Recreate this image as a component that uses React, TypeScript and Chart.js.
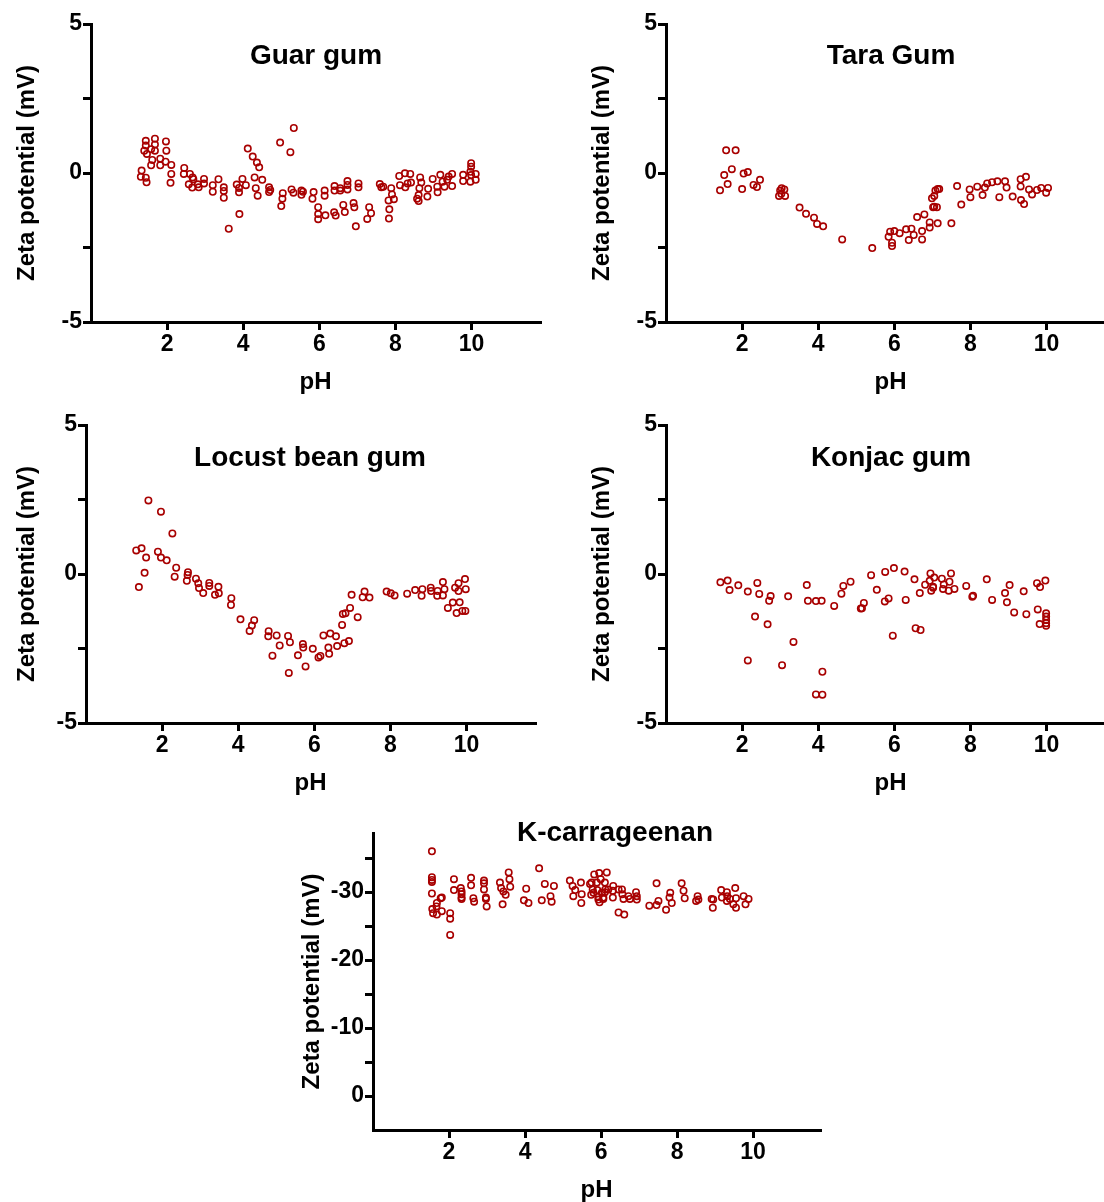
import React, { useEffect, useRef } from 'react';
import { Chart, registerables } from 'chart.js';

Chart.register(...registerables);

// ---------- DATA ----------
const xTicks = [2, 4, 6, 8, 10];
const smallYTicks = [-5, -2.5, 0, 2.5, 5];
const carrYTicks = [-35, -30, -25, -20, -15, -10, -5, 0];

const guarPH = [
  1.44, 1.44, 1.40, 1.47, 1.68, 1.68, 1.68, 1.58, 1.61, 1.58, 1.82, 1.82, 1.97, 1.98, 1.96, 2.11, 2.11, 2.09,
  1.33, 1.31, 1.44, 1.46, 2.45, 2.44, 2.60, 2.67, 2.57, 2.66, 2.69, 2.81, 2.83, 2.97, 2.97, 3.20, 3.20, 3.35,
  3.49, 3.49, 3.49, 3.62, 3.83, 3.89, 3.89, 3.90, 3.98, 4.07, 4.12, 4.25, 4.36, 4.42, 4.30, 4.33, 4.38, 4.50,
  4.68, 4.68, 4.71, 4.97, 5.04, 5.03, 5.00, 5.24, 5.33, 5.27, 5.32, 5.53, 5.53, 5.57, 5.82, 5.85, 5.97, 5.97,
  5.97, 6.14, 6.14, 6.16, 6.40, 6.40, 6.55, 6.55, 6.74, 6.74, 6.74, 6.39, 6.43, 6.63, 6.67, 6.90, 6.92, 6.96,
  7.03, 7.03, 7.31, 7.36, 7.26, 7.59, 7.63, 7.68, 7.89, 7.91, 7.96, 7.82, 7.84, 7.83, 8.10, 8.25, 8.39, 8.12,
  8.26, 8.32, 8.41, 8.65, 8.68, 8.63, 8.61, 8.57, 8.61, 8.86, 8.84, 8.98, 9.10, 9.11, 9.18, 9.24, 9.29, 9.36,
  9.40, 9.49, 9.49, 9.78, 9.78, 9.99, 9.99, 9.97, 9.99, 10.11, 10.11, 9.97,
];
const guarZeta = [
  1.08, 0.92, 0.75, 0.64, 1.15, 0.96, 0.75, 0.80, 0.44, 0.26, 0.48, 0.26, 1.06, 0.75, 0.38, 0.27, -0.03, -0.33,
  0.08, -0.13, -0.16, -0.31, 0.17, -0.03, -0.03, -0.15, -0.38, -0.49, -0.21, -0.38, -0.48, -0.20, -0.35, -0.41, -0.63, -0.21,
  -0.48, -0.60, -0.83, -1.87, -0.39, -0.50, -0.65, -1.38, -0.20, -0.41, 0.82, 0.55, 0.35, 0.19, -0.15, -0.51, -0.76, -0.23,
  -0.48, -0.64, -0.57, 1.02, -0.68, -0.86, -1.11, 0.70, 1.51, -0.55, -0.66, -0.59, -0.73, -0.63, -0.86, -0.64, -1.15, -1.38,
  -1.55, -0.59, -0.76, -1.42, -0.44, -0.59, -0.51, -0.59, -0.27, -0.40, -0.55, -1.32, -1.43, -1.07, -1.31, -1.01, -1.15, -1.79,
  -0.35, -0.48, -1.15, -1.35, -1.54, -0.37, -0.48, -0.46, -0.51, -0.72, -0.88, -0.92, -1.22, -1.53, -0.10, -0.01, -0.03, -0.41,
  -0.48, -0.35, -0.32, -0.15, -0.32, -0.51, -0.74, -0.86, -0.94, -0.53, -0.79, -0.20, -0.46, -0.65, -0.06, -0.29, -0.46, -0.23,
  -0.12, -0.03, -0.44, -0.06, -0.27, 0.33, 0.21, 0.04, -0.07, -0.03, -0.23, -0.29,
];

const taraPH = [
  1.58, 1.83, 1.73, 1.53, 1.62, 1.42, 2.04, 2.15, 2.00, 2.30, 2.39, 2.47, 3.04, 3.11, 3.00, 3.03, 2.97, 3.13,
  3.51, 3.68, 3.89, 3.97, 4.13, 4.63, 5.42, 5.89, 6.00, 6.14, 5.85, 5.94, 5.94, 6.31, 6.45, 6.51, 6.38, 6.60,
  6.79, 6.73, 6.73, 6.93, 6.93, 7.14, 7.50, 7.02, 7.12, 7.05, 6.99, 7.05, 7.08, 7.14, 7.18, 7.65, 7.76, 7.98,
  8.00, 8.18, 8.32, 8.38, 8.44, 8.57, 8.71, 8.91, 8.95, 8.76, 9.11, 9.32, 9.32, 9.46, 9.33, 9.41, 9.54, 9.62,
  9.75, 9.86, 9.99, 10.04,
];
const taraZeta = [
  0.76, 0.76, 0.13, -0.07, -0.37, -0.58, -0.02, 0.03, -0.54, -0.40, -0.47, -0.23, -0.51, -0.55, -0.59, -0.70, -0.77, -0.77,
  -1.16, -1.37, -1.50, -1.71, -1.79, -2.23, -2.52, -1.97, -1.95, -2.02, -2.14, -2.34, -2.45, -1.89, -1.87, -2.08, -2.25, -1.48,
  -1.39, -1.95, -2.23, -1.66, -1.83, -1.69, -1.69, -1.15, -1.15, -1.13, -0.85, -0.77, -0.59, -0.54, -0.54, -0.44, -1.06, -0.55,
  -0.81, -0.46, -0.74, -0.49, -0.35, -0.31, -0.28, -0.28, -0.49, -0.81, -0.79, -0.21, -0.45, -0.13, -0.91, -1.04, -0.55, -0.72,
  -0.57, -0.50, -0.66, -0.50,
];

const locustPH = [
  1.64, 1.97, 2.27, 1.32, 1.46, 1.58, 1.54, 1.39, 1.89, 1.97, 2.12, 2.37, 2.33, 2.68, 2.67, 2.65, 2.89, 2.95,
  2.97, 3.08, 3.24, 3.24, 3.48, 3.49, 3.39, 3.82, 3.81, 4.06, 4.42, 4.36, 4.30, 4.80, 4.79, 5.01, 5.09, 4.90,
  5.31, 5.36, 5.33, 5.70, 5.71, 5.57, 5.77, 5.96, 6.11, 6.16, 6.24, 6.42, 6.37, 6.39, 6.57, 6.60, 6.79, 6.91,
  6.73, 6.75, 6.82, 6.94, 7.14, 6.98, 7.32, 7.27, 7.45, 7.90, 8.01, 8.11, 8.44, 8.65, 8.84, 8.82, 9.06, 9.07,
  9.24, 9.23, 9.38, 9.42, 9.38, 9.51, 9.64, 9.82, 9.74, 9.89, 9.97, 9.70, 9.79, 9.79, 9.96, 9.98,
];
const locustZeta = [
  2.47, 2.09, 1.36, 0.79, 0.86, 0.55, 0.04, -0.44, 0.75, 0.55, 0.46, 0.21, -0.09, 0.06, -0.03, -0.23, -0.16, -0.31,
  -0.47, -0.64, -0.30, -0.40, -0.43, -0.65, -0.70, -0.81, -1.04, -1.52, -1.55, -1.73, -1.91, -1.92, -2.09, -2.06, -2.40, -2.74,
  -2.08, -2.29, -3.32, -2.35, -2.47, -2.73, -3.10, -2.51, -2.80, -2.75, -2.06, -2.00, -2.47, -2.68, -2.09, -2.42, -2.32, -2.25,
  -1.71, -1.34, -1.32, -1.14, -1.45, -0.70, -0.59, -0.78, -0.79, -0.59, -0.65, -0.72, -0.66, -0.54, -0.51, -0.73, -0.46, -0.57,
  -0.57, -0.73, -0.72, -0.51, -0.27, -1.14, -0.96, -0.95, -1.31, -1.24, -1.24, -0.46, -0.31, -0.57, -0.17, -0.51,
];

const konjacPH = [
  1.43, 1.62, 1.67, 1.90, 2.15, 2.40, 2.45, 2.75, 2.71, 3.21, 2.34, 2.67, 3.35, 2.15, 3.05, 4.11, 3.94, 4.11,
  3.70, 3.73, 3.94, 4.09, 4.42, 4.61, 4.66, 4.85, 5.20, 5.15, 5.12, 5.39, 5.54, 5.76, 5.99, 6.27, 6.53, 5.75,
  5.85, 6.30, 5.96, 6.56, 6.69, 6.67, 6.81, 6.95, 6.93, 7.05, 7.02, 6.97, 7.02, 7.25, 7.30, 7.28, 7.45, 7.49,
  7.43, 7.58, 7.89, 8.05, 8.07, 8.43, 8.57, 8.91, 8.96, 9.03, 9.15, 9.40, 9.47, 9.75, 9.83, 9.97, 9.77, 9.82,
  9.99, 9.99, 9.99, 9.99, 9.99,
];
const konjacZeta = [
  -0.28, -0.22, -0.54, -0.38, -0.59, -0.30, -0.67, -0.74, -0.90, -0.75, -1.43, -1.69, -2.28, -2.90, -3.06, -3.28, -4.04, -4.05,
  -0.37, -0.90, -0.91, -0.90, -1.07, -0.66, -0.40, -0.26, -0.97, -1.15, -1.16, -0.04, -0.53, 0.07, 0.20, 0.08, -0.18, -0.92,
  -0.82, -0.87, -2.07, -1.82, -1.88, -0.64, -0.36, 0.02, -0.23, -0.12, -0.46, -0.56, -0.43, -0.16, -0.35, -0.50, -0.26, 0.02,
  -0.56, -0.50, -0.40, -0.76, -0.73, -0.18, -0.87, -0.64, -0.95, -0.37, -1.29, -0.58, -1.35, -0.31, -0.44, -0.22, -1.19, -1.68,
  -1.32, -1.43, -1.54, -1.65, -1.74,
];

const carrPH = [
  1.55, 1.55, 1.55, 1.55, 1.55, 1.68, 1.67, 1.56, 1.58, 1.68, 1.81, 1.81, 1.78, 2.03, 2.03, 2.03, 2.13, 2.13,
  2.31, 2.33, 2.33, 2.33, 2.33, 2.58, 2.58, 2.64, 2.66, 2.92, 2.92, 2.92, 2.97, 2.97, 2.99, 3.34, 3.37, 3.43,
  3.49, 3.57, 3.59, 3.61, 3.41, 3.97, 4.03, 4.09, 4.37, 4.52, 4.44, 4.67, 4.70, 4.76, 5.18, 5.25, 5.32, 5.27,
  5.47, 5.49, 5.48, 5.71, 5.78, 5.82, 5.95, 5.89, 5.99, 6.10, 6.06, 6.02, 5.93, 5.74, 6.15, 6.19, 6.10, 5.75,
  5.90, 5.80, 6.11, 5.93, 6.06, 5.96, 6.32, 6.31, 6.31, 6.46, 6.55, 6.56, 6.46, 6.61, 6.72, 6.76, 6.59, 6.92,
  6.94, 6.94, 7.46, 7.27, 7.46, 7.51, 7.71, 7.82, 7.80, 7.86, 8.12, 8.17, 8.20, 8.54, 8.56, 8.50, 8.91, 8.95,
  8.94, 9.16, 9.18, 9.31, 9.32, 9.39, 9.31, 9.53, 9.55, 9.48, 9.55, 9.75, 9.88, 9.80,
];
const carrZeta = [
  -36.0, -32.2, -31.8, -31.5, -29.8, -28.4, -27.9, -27.5, -26.9, -26.7, -29.2, -27.2, -29.1, -26.9, -26.1, -23.7, -31.9, -30.3,
  -30.6, -30.1, -29.7, -29.2, -29.0, -32.1, -31.0, -29.1, -28.6, -31.7, -31.3, -30.4, -29.2, -29.0, -27.9, -31.4, -30.6, -30.1,
  -29.6, -32.9, -31.9, -30.8, -28.2, -28.8, -30.5, -28.4, -33.5, -31.2, -28.8, -29.4, -28.6, -30.9, -31.7, -30.9, -30.3, -29.4,
  -31.4, -29.7, -28.4, -31.2, -30.4, -32.6, -32.8, -31.4, -31.9, -31.4, -29.2, -29.9, -28.9, -29.6, -32.9, -30.4, -30.0, -31.4,
  -30.3, -29.9, -30.4, -29.3, -29.0, -28.5, -30.9, -30.2, -29.2, -30.4, -30.4, -29.7, -27.0, -26.7, -29.4, -29.0, -29.0, -30.0,
  -29.4, -28.9, -31.3, -28.0, -28.1, -28.7, -27.4, -29.9, -29.2, -28.4, -31.3, -30.2, -29.1, -29.4, -28.9, -28.7, -29.0, -28.9,
  -27.7, -30.3, -29.2, -30.0, -29.4, -29.0, -28.7, -30.6, -29.1, -28.2, -27.7, -29.4, -29.0, -28.2,
];

// ---------- STYLE ----------
const FONT = "'Liberation Sans', Arial, Helvetica, sans-serif";
const RED = '#a80000';

type PanelProps = {
  title: string;
  ph: number[];
  zeta: number[];
  left: number;
  top: number;
  width: number;
  height: number;
  yAxisW: number;
  xAxisH: number;
  padTop: number;
  padRight: number;
  xMax: number;
  yMin: number;
  yMax: number;
  reverse: boolean;
  yTicks: number[];
  labelStep: number;
  titleX: number;
  titleY: number;
  yTitlePad: number;
  xTitlePad: number;
};

function Panel(p: PanelProps) {
  const ref = useRef<HTMLCanvasElement | null>(null);
  useEffect(() => {
    if (!ref.current) return;
    const pts = p.ph.map((x, i) => ({ x, y: p.zeta[i] }));
    const titlePlugin = {
      id: 'panelTitle',
      afterDraw(chart: any) {
        const ctx = chart.ctx;
        ctx.save();
        ctx.font = `bold 28px ${FONT}`;
        ctx.fillStyle = '#000';
        ctx.textAlign = 'center';
        ctx.textBaseline = 'middle';
        ctx.fillText(p.title, p.titleX, p.titleY);
        ctx.restore();
      },
    };
    const chart = new Chart(ref.current, {
      type: 'scatter',
      data: {
        datasets: [
          {
            data: pts,
            borderColor: RED,
            backgroundColor: 'rgba(0,0,0,0)',
            pointRadius: 3.2,
            pointBorderWidth: 1.6,
            pointHoverRadius: 3.2,
          },
        ],
      },
      options: {
        animation: false,
        responsive: false,
        maintainAspectRatio: false,
        layout: { padding: { top: p.padTop, right: p.padRight, left: 0, bottom: 0 } },
        plugins: { legend: { display: false }, tooltip: { enabled: false } },
        scales: {
          x: {
            type: 'linear',
            min: 0,
            max: p.xMax,
            afterBuildTicks: (s: any) => {
              s.ticks = xTicks.map((v) => ({ value: v }));
            },
            afterFit: (s: any) => {
              s.height = p.xAxisH;
            },
            border: { display: true, color: '#000', width: 3 },
            grid: { drawOnChartArea: false, drawTicks: true, tickLength: 8, lineWidth: 3, color: '#000' },
            ticks: {
              color: '#000',
              font: { family: FONT, size: 23, weight: 'bold' },
              padding: 1,
              maxRotation: 0,
              autoSkip: false,
            },
            title: {
              display: true,
              text: 'pH',
              color: '#000',
              font: { family: FONT, size: 24, weight: 'bold', lineHeight: 1 },
              padding: { top: 0, bottom: p.xTitlePad },
            },
          },
          y: {
            type: 'linear',
            min: p.yMin,
            max: p.yMax,
            reverse: p.reverse,
            afterBuildTicks: (s: any) => {
              s.ticks = p.yTicks.map((v) => ({ value: v }));
            },
            afterFit: (s: any) => {
              s.width = p.yAxisW;
            },
            border: { display: true, color: '#000', width: 3 },
            grid: { drawOnChartArea: false, drawTicks: true, tickLength: 8, lineWidth: 3, color: '#000' },
            ticks: {
              color: '#000',
              font: { family: FONT, size: 23, weight: 'bold' },
              padding: 1,
              autoSkip: false,
              callback: (v: any) => (Math.abs(Number(v) % p.labelStep) < 1e-9 ? String(v) : ''),
            },
            title: {
              display: true,
              text: 'Zeta potential (mV)',
              color: '#000',
              font: { family: FONT, size: 24, weight: 'bold', lineHeight: 1 },
              padding: { top: p.yTitlePad, bottom: 0 },
            },
          },
        },
      },
      plugins: [titlePlugin],
    });
    return () => chart.destroy();
  }, []);
  return (
    <canvas
      ref={ref}
      width={p.width}
      height={p.height}
      style={{ position: 'absolute', left: p.left, top: p.top, width: p.width, height: p.height }}
    />
  );
}

export default function App() {
  const common = {
    height: 400,
    xAxisH: 78,
    padTop: 24,
    padRight: 12,
    xMax: 11.8,
    yMin: -5,
    yMax: 5,
    reverse: false,
    yTicks: smallYTicks,
    labelStep: 5,
    xTitlePad: 6,
  };
  return (
    <div
      style={{
        position: 'absolute',
        left: 0,
        top: 0,
        width: 1104,
        height: 1202,
        overflow: 'hidden',
        background: '#fff',
      }}
    >
      <Panel {...common} title="Guar gum" ph={guarPH} zeta={guarZeta} left={0} top={0} width={552} yAxisW={91}
        titleX={316} titleY={56} yTitlePad={15} />
      <Panel {...common} title="Tara Gum" ph={taraPH} zeta={taraZeta} left={575} top={0} width={552} yAxisW={91}
        titleX={316} titleY={56} yTitlePad={15} />
      <Panel {...common} title="Locust bean gum" ph={locustPH} zeta={locustZeta} left={0} top={401} width={547} yAxisW={86}
        titleX={310} titleY={57} yTitlePad={15} />
      <Panel {...common} title="Konjac gum" ph={konjacPH} zeta={konjacZeta} left={575} top={401} width={552} yAxisW={91}
        titleX={316} titleY={57} yTitlePad={15} />
      <Panel
        title="K-carrageenan"
        ph={carrPH}
        zeta={carrZeta}
        left={282}
        top={809}
        width={550}
        height={393}
        yAxisW={91}
        xAxisH={72}
        padTop={24}
        padRight={12}
        xMax={11.76}
        yMin={-38.7}
        yMax={5}
        reverse={true}
        yTicks={carrYTicks}
        labelStep={10}
        titleX={333}
        titleY={24}
        yTitlePad={18}
        xTitlePad={0}
      />
    </div>
  );
}
